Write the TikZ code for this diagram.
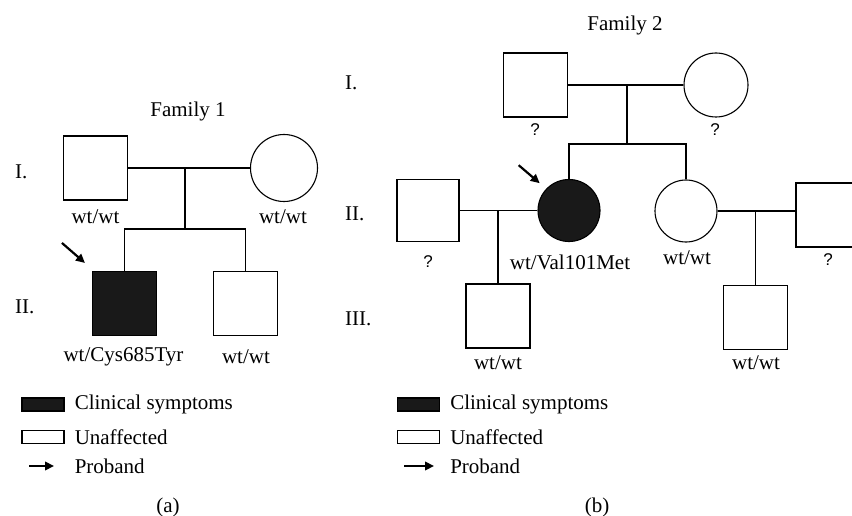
\documentclass[tikz,border=0pt]{standalone}
\usepackage{fontspec}
\setmainfont{Liberation Serif}
\setsansfont{Liberation Sans}
\usepackage{tikz}
\usetikzlibrary{shapes,arrows,arrows.meta,positioning}

\tikzset{
  male/.style={draw, rectangle, minimum size=64pt, inner sep=0pt, line width=1.1pt},
  female/.style={draw, circle, minimum size=64pt, inner sep=0pt, line width=1.1pt},
  affected/.style={fill=black!90},
  lbl/.style={inner sep=2pt, font=\fontsize{21}{25}\selectfont},
  unk/.style={inner sep=2pt, font=\sffamily\fontsize{17}{20}\selectfont},
  legbox/.style={draw, rectangle, minimum width=42pt, minimum height=13pt, inner sep=0pt, line width=1.1pt},
  line/.style={line width=1.2pt},
  proband/.style={line width=2.2pt, -{Triangle[length=9pt,width=8.5pt]}}
}

\begin{document}
\begin{tikzpicture}[x=1pt, y=-1pt]
    \useasboundingbox (0,0) rectangle (852,516);

    % Family 1
    \node[lbl] (f1title) at (188,111) {Family 1};
    \node[lbl, anchor=west] (f1gen1) at (13,172) {I.};
    \node[lbl, anchor=west] (f1gen2) at (13,307) {II.};
    \node[male] (f1dad) at (95.5,168) {};
    \node[female, minimum size=67pt] (f1mom) at (284,168) {};
    \node[male, affected] (f1pro) at (124.5,303.5) {};
    \node[male] (f1bro) at (245.5,303.5) {};
    \coordinate (f1m) at (185,168);
    \coordinate (f1s) at (185,229);
    \draw[line] (f1dad) -- (f1mom);
    \draw[line] (f1m) -- (f1s);
    \draw[line] (f1pro) |- (f1s) -| (f1bro);
    \node[lbl] (f1dadgt) at (95.5,217) {wt/wt};
    \node[lbl] (f1momgt) at (283,217) {wt/wt};
    \node[lbl] (f1progt) at (123.5,357) {wt/Cys685Tyr};
    \node[lbl] (f1brogt) at (246,357) {wt/wt};
    \draw[proband] ([shift={(-30,-28)}]f1pro.north west) -- ([shift={(-7,-8)}]f1pro.north west);

    % Family 2
    \node[lbl] (f2title) at (625,25) {Family 2};
    \node[lbl, anchor=west] (f2gen1) at (343,83) {I.};
    \node[lbl, anchor=west] (f2gen2) at (343,214) {II.};
    \node[lbl, anchor=west] (f2gen3) at (343,319) {III.};
    \node[male] (f2dad) at (535.5,85) {};
    \node[female] (f2mom) at (716,85) {};
    \node[female, affected, minimum size=62pt] (f2pro) at (569,210.5) {};
    \node[female, minimum size=62pt] (f2sis) at (686,211) {};
    \node[male, minimum size=62pt] (f2hus) at (428,210.5) {};
    \node[male] (f2sishus) at (828,215) {};
    \node[male] (f2kid1) at (498,316) {};
    \node[male] (f2kid2) at (755.5,317.5) {};
    \coordinate (f2m) at (627,85);
    \coordinate (f2s) at (627,144);
    \coordinate (f2m2) at (f2kid1.north |- f2hus.east);
    \coordinate (f2m3) at (f2kid2.north |- f2sis.east);
    \draw[line] (f2dad) -- (f2mom);
    \draw[line] (f2m) -- (f2s);
    \draw[line] (f2pro) |- (f2s) -| (f2sis);
    \draw[line] (f2hus) -- (f2pro);
    \draw[line] (f2sis.east) -- (f2sis.east -| f2sishus.west);
    \draw[line] (f2m2) -- (f2kid1);
    \draw[line] (f2m3) -- (f2kid2);
    \node[unk] (f2dadgt) at (535,130) {?};
    \node[unk] (f2momgt) at (715,130) {?};
    \node[unk] (f2husgt) at (428,262) {?};
    \node[unk] (f2sishusgt) at (828,260) {?};
    \node[lbl] (f2progt) at (570,262) {wt/Val101Met};
    \node[lbl] (f2sisgt) at (687,258) {wt/wt};
    \node[lbl] (f2kid1gt) at (498,363) {wt/wt};
    \node[lbl] (f2kid2gt) at (756,363) {wt/wt};
    \draw[proband] ([shift={(-28,-23)}]f2pro.north west) -- ([shift={(-7,-5)}]f2pro.north west);

    % Legend (a)
    \node[legbox, affected] (legA1) at (43,404.5) {};
    \node[legbox] (legA2) at (43,437) {};
    \coordinate (legA3) at (29,466);
    \node[lbl, right=8pt of legA1] (legA1t) {Clinical symptoms};
    \node[lbl, right=8pt of legA2] (legA2t) {Unaffected};
    \node[lbl, anchor=west] (legA3t) at (legA2t.west |- legA3) {Proband};
    \draw[proband] (legA3) -- ++(25,0);
    \node[lbl] (capA) at (168,507) {(a)};

    % Legend (b)
    \node[legbox, affected] (legB1) at (418.5,404.5) {};
    \node[legbox] (legB2) at (418.5,437) {};
    \coordinate (legB3) at (404,466);
    \node[lbl, right=8pt of legB1] (legB1t) {Clinical symptoms};
    \node[lbl, right=8pt of legB2] (legB2t) {Unaffected};
    \node[lbl, anchor=west] (legB3t) at (legB2t.west |- legB3) {Proband};
    \draw[proband] (legB3) -- ++(30,0);
    \node[lbl] (capB) at (597,507) {(b)};
\end{tikzpicture}
\end{document}
